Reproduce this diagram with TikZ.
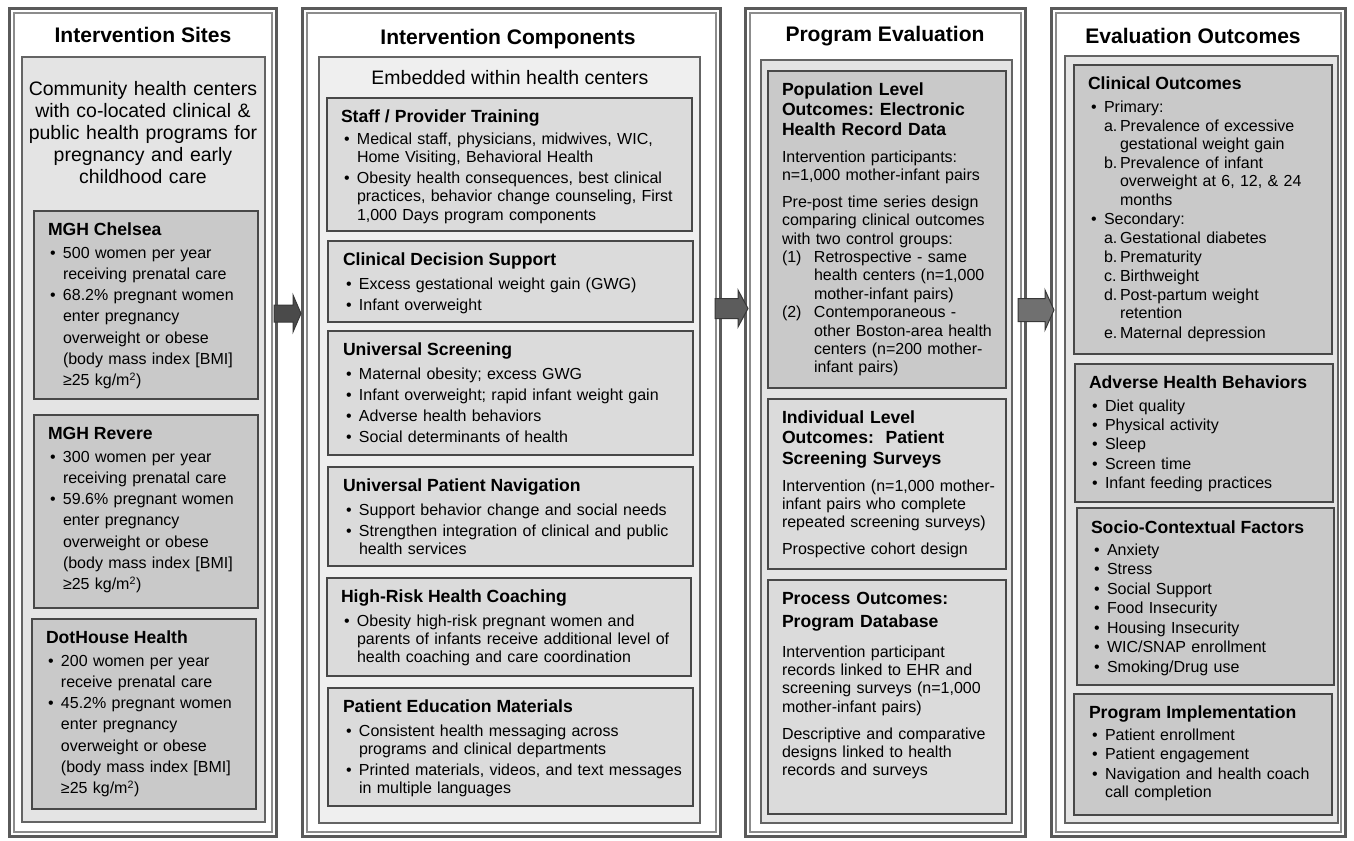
\documentclass[tikz,border=0pt]{standalone}
\usepackage{fontspec}
\setmainfont{Liberation Sans}
\usetikzlibrary{calc}
\newlength\pxl
\setlength\pxl{0.75pt}
\definecolor{framedark}{HTML}{5A5A5A}
\definecolor{frameline}{HTML}{8C8C8C}
\definecolor{panelborder}{HTML}{646464}
\definecolor{panelA}{HTML}{E4E4E4}
\definecolor{panelB}{HTML}{EFEFEF}
\definecolor{subdark}{HTML}{C9C9C9}
\definecolor{sublight}{HTML}{DBDBDB}
\definecolor{boxborder}{HTML}{484848}
\definecolor{arrowA}{HTML}{4A4A4A}
\definecolor{arrowB}{HTML}{5C5C5C}
\definecolor{arrowC}{HTML}{707070}
\definecolor{arrowline}{HTML}{383838}
\newcommand\hfont{\fontsize{15.8}{18}\selectfont\bfseries}
\newcommand\tfont{\fontsize{13.2}{15}\selectfont\bfseries}
\newcommand\cfont{\fontsize{14.6}{16.5}\selectfont}
\newcommand\bfontA{\fontsize{12}{15.98}\selectfont}
\newcommand\bfontB{\fontsize{12}{13.73}\selectfont}
\newcommand\bfontC{\fontsize{12}{13.8}\selectfont}
\newcommand\NL{\newline}
\newcommand\bul[1]{\hangindent=16\pxl\hangafter=1\noindent\makebox[16\pxl][l]{\hspace*{3\pxl}\textbullet}#1\par}
\newcommand\subit[2]{\hangindent=32\pxl\hangafter=1\noindent\hspace*{16\pxl}\makebox[16\pxl][l]{#1}#2\par}
\newcommand\numit[2]{\hangindent=32\pxl\hangafter=1\noindent\makebox[32\pxl][l]{#1}#2\par}
\newcommand\rbox[6]{\node[#6, minimum width={((#4)-(#2))*0.75pt}, minimum height={((#5)-(#3))*0.75pt}] (#1) at ({((#2)+(#4))/2},{((#3)+(#5))/2}) {};}
\newcommand\colframe[5]{\rbox{#1}{#2+1.5}{#3+1.5}{#4-1.5}{#5-1.5}{outerframe}\rbox{#1i}{#2+6}{#3+6}{#4-6}{#5-6}{innerframe}}
\newcommand\blockarrow[6]{\filldraw[blockarr, fill=#6] ($(#1)+(0,-#3)$) -- ($(#2)+(-#5,-#3)$) -- ($(#2)+(-#5,-#4)$) -- (#2) -- ($(#2)+(-#5,#4)$) -- ($(#2)+(-#5,#3)$) -- ($(#1)+(0,#3)$) -- cycle;}
\begin{document}
\frenchspacing
\begin{tikzpicture}[x=0.75pt,y=-0.75pt,
  rectbase/.style={rectangle, inner sep=0pt, outer sep=0pt, anchor=center},
  outerframe/.style={rectbase, draw=framedark, line width=2.25pt, fill=white},
  innerframe/.style={rectbase, draw=frameline, line width=1.1pt},
  panelbox/.style={rectbase, draw=panelborder, line width=1.7pt},
  subbox/.style={rectbase, draw=boxborder, line width=1.1pt},
  header/.style={anchor=base, inner sep=0pt, font=\hfont},
  ttl/.style={anchor=base west, inner sep=0pt, outer sep=0pt, font=\tfont, align=left},
  body/.style={anchor=base west, inner sep=0pt, outer sep=0pt, align=left},
  blockarr/.style={draw=arrowline, line width=0.75pt, line join=miter}
]
\useasboundingbox (0,0) rectangle (1354,840);
\fill[white] (0,0) rectangle (1354,840);

% ---------- column frames ----------
\colframe{c1}{8}{7}{278}{838}
\colframe{c2}{301}{7}{722}{838}
\colframe{c3}{744}{7}{1027}{838}
\colframe{c4}{1050}{7}{1347}{838}

% ---------- panels ----------
\rbox{p1}{22}{57}{265}{822}{panelbox, fill=panelA}
\rbox{p2}{319}{57}{700}{823}{panelbox, fill=panelB}
\rbox{p3}{761}{60}{1012}{823}{panelbox, fill=panelA}
\rbox{p4}{1065}{56}{1338}{823}{panelbox, fill=panelA}

% ---------- headers ----------
\node[header] (h1) at (143,42) {Intervention Sites};
\node[header] (h2) at (508,44) {Intervention Components};
\node[header] (h3) at (885,41) {Program Evaluation};
\node[header] (h4) at (1193,43) {Evaluation Outcomes};

% ---------- column 1 ----------
\node[anchor=base, inner sep=0pt, align=center, text width=180pt, font=\fontsize{14.6}{16.5}\selectfont] (comm) at (143,95) {Community health centers\\with co-located clinical \&\\public health programs for\\pregnancy and early\\childhood care};

\rbox{chel}{34}{211}{258}{399}{subbox, fill=subdark}
\rbox{rev}{34}{415}{258}{608}{subbox, fill=subdark}
\rbox{dot}{32}{619}{256}{809}{subbox, fill=subdark}

\node[ttl] (chelT) at (48,235) {MGH Chelsea};
\node[body, text width=160pt, font=\bfontA] (chelB) at (47,258) {%
\bul{500 women per year\NL receiving prenatal care}%
\bul{68.2\% pregnant women\NL enter pregnancy\NL overweight or obese\NL (body mass index [BMI]\NL ≥25 kg/m\textsuperscript{2})}};

\node[ttl] (revT) at (48,439) {MGH Revere};
\node[body, text width=160pt, font=\bfontA] (revB) at (47,462) {%
\bul{300 women per year\NL receiving prenatal care}%
\bul{59.6\% pregnant women\NL enter pregnancy\NL overweight or obese\NL (body mass index [BMI]\NL ≥25 kg/m\textsuperscript{2})}};

\node[ttl] (dotT) at (46,643) {DotHouse Health};
\node[body, text width=160pt, font=\bfontA] (dotB) at (45,666) {%
\bul{200 women per year\NL receive prenatal care}%
\bul{45.2\% pregnant women\NL enter pregnancy\NL overweight or obese\NL (body mass index [BMI]\NL ≥25 kg/m\textsuperscript{2})}};

% ---------- column 2 ----------
\node[anchor=base, inner sep=0pt, font=\cfont] (emb) at (510,84) {Embedded within health centers};

\rbox{staff}{327}{98}{692}{231}{subbox, fill=sublight}
\rbox{cds}{328}{241}{693}{322}{subbox, fill=sublight}
\rbox{us}{328}{331}{693}{455}{subbox, fill=sublight}
\rbox{upn}{328}{467}{693}{566}{subbox, fill=sublight}
\rbox{hr}{327}{578}{691}{676}{subbox, fill=sublight}
\rbox{pe}{328}{688}{693}{806}{subbox, fill=sublight}

\node[ttl] (staffT) at (341,122) {Staff / Provider Training};
\node[body, text width=265pt, font=\bfontB] (staffB) at (341,144) {\setlength\parskip{3\pxl}%
\bul{Medical staff, physicians, midwives, WIC,\NL Home Visiting, Behavioral Health}%
\bul{Obesity health consequences, best clinical\NL practices, behavior change counseling, First\NL 1,000 Days program components}};

\node[ttl] (cdsT) at (343,265) {Clinical Decision Support};
\node[body, text width=265pt, font=\bfontB] (cdsB) at (343,289) {\setlength\parskip{3\pxl}%
\bul{Excess gestational weight gain (GWG)}%
\bul{Infant overweight}};

\node[ttl] (usT) at (343,355) {Universal Screening};
\node[body, text width=265pt, font=\bfontB] (usB) at (343,379) {\setlength\parskip{3\pxl}%
\bul{Maternal obesity; excess GWG}%
\bul{Infant overweight; rapid infant weight gain}%
\bul{Adverse health behaviors}%
\bul{Social determinants of health}};

\node[ttl] (upnT) at (343,491) {Universal Patient Navigation};
\node[body, text width=265pt, font=\bfontB] (upnB) at (343,515) {\setlength\parskip{3\pxl}%
\bul{Support behavior change and social needs}%
\bul{Strengthen integration of clinical and public\NL health services}};

\node[ttl] (hrT) at (341,602) {High-Risk Health Coaching};
\node[body, text width=265pt, font=\bfontB] (hrB) at (341,626) {\setlength\parskip{3\pxl}%
\bul{Obesity high-risk pregnant women and\NL parents of infants receive additional level of\NL health coaching and care coordination}};

\node[ttl] (peT) at (343,712) {Patient Education Materials};
\node[body, text width=265pt, font=\bfontB] (peB) at (343,736) {\setlength\parskip{3\pxl}%
\bul{Consistent health messaging across\NL programs and clinical departments}%
\bul{Printed materials, videos, and text messages\NL in multiple languages}};

% ---------- column 3 ----------
\rbox{pop}{768}{71}{1006}{388}{subbox, fill=subdark}
\rbox{ind}{768}{399}{1006}{569}{subbox, fill=sublight}
\rbox{proc}{768}{580}{1006}{814}{subbox, fill=sublight}

\node[ttl, text width=170pt, font=\fontsize{13.2}{15}\selectfont\bfseries] (popT) at (782,95) {Population Level\\Outcomes: Electronic\\Health Record Data};
\node[body, text width=170pt, font=\bfontC] (popB) at (782,162) {%
Intervention participants:\NL n=1,000 mother-infant pairs\par\vspace{8.5\pxl}%
\noindent Pre-post time series design\NL comparing clinical outcomes\NL with two control groups:\par
\numit{(1)}{Retrospective - same\NL health centers (n=1,000\NL mother-infant pairs)}%
\numit{(2)}{Contemporaneous -\NL other Boston-area health\NL centers (n=200 mother-\NL infant pairs)}};

\node[ttl, text width=170pt, font=\fontsize{13.2}{15.4}\selectfont\bfseries] (indT) at (782,423) {Individual Level\\Outcomes:\ \ Patient\\Screening Surveys};
\node[body, text width=170pt, font=\bfontC] (indB) at (782,491) {%
Intervention (n=1,000 mother-\NL infant pairs who complete\NL repeated screening surveys)\par\vspace{8.5\pxl}%
\noindent Prospective cohort design};

\node[ttl, text width=170pt, font=\fontsize{13.2}{17.25}\selectfont\bfseries] (procT) at (782,604) {Process Outcomes:\\Program Database};
\node[body, text width=170pt, font=\bfontC] (procB) at (782,657) {%
Intervention participant\NL records linked to EHR and\NL screening surveys (n=1,000\NL mother-infant pairs)\par\vspace{8.5\pxl}%
\noindent Descriptive and comparative\NL designs linked to health\NL records and surveys};

% ---------- column 4 ----------
\rbox{clin}{1074}{65}{1332}{354}{subbox, fill=subdark}
\rbox{adv}{1075}{364}{1333}{502}{subbox, fill=subdark}
\rbox{soc}{1077}{508}{1334}{685}{subbox, fill=subdark}
\rbox{impl}{1074}{694}{1332}{815}{subbox, fill=subdark}

\node[ttl] (clinT) at (1088,89) {Clinical Outcomes};
\node[body, text width=185pt, font=\bfontB] (clinB) at (1088,112) {\setlength\parskip{0.8\pxl}%
\bul{Primary:}%
\subit{a.}{Prevalence of excessive\NL gestational weight gain}%
\subit{b.}{Prevalence of infant\NL overweight at 6, 12, \& 24\NL months}%
\bul{Secondary:}%
\subit{a.}{Gestational diabetes}%
\subit{b.}{Prematurity}%
\subit{c.}{Birthweight}%
\subit{d.}{Post-partum weight\NL retention}%
\subit{e.}{Maternal depression}};

\node[ttl] (advT) at (1089,388) {Adverse Health Behaviors};
\node[body, text width=185pt, font=\bfontB] (advB) at (1089,411) {\setlength\parskip{1.1\pxl}%
\bul{Diet quality}\bul{Physical activity}\bul{Sleep}\bul{Screen time}\bul{Infant feeding practices}};

\node[ttl] (socT) at (1091,533) {Socio-Contextual Factors};
\node[body, text width=185pt, font=\bfontB] (socB) at (1091,555) {\setlength\parskip{1.2\pxl}%
\bul{Anxiety}\bul{Stress}\bul{Social Support}\bul{Food Insecurity}\bul{Housing Insecurity}\bul{WIC/SNAP enrollment}\bul{Smoking/Drug use}};

\node[ttl] (implT) at (1089,718) {Program Implementation};
\node[body, text width=185pt, font=\bfontB] (implB) at (1089,740) {\setlength\parskip{1.2\pxl}%
\bul{Patient enrollment}\bul{Patient engagement}\bul{Navigation and health coach\NL call completion}};

% ---------- arrows ----------
\coordinate (a1s) at (274,313.5);
\coordinate (a1e) at (301,313.5);
\coordinate (a2s) at (715,308.5);
\coordinate (a2e) at (748,308.5);
\coordinate (a3s) at (1018,310);
\coordinate (a3e) at (1054,310);
\blockarrow{a1s}{a1e}{8.5}{18.5}{8}{arrowA}
\blockarrow{a2s}{a2e}{10}{18.5}{10}{arrowB}
\blockarrow{a3s}{a3e}{11.5}{20}{9}{arrowC}
\end{tikzpicture}
\end{document}
